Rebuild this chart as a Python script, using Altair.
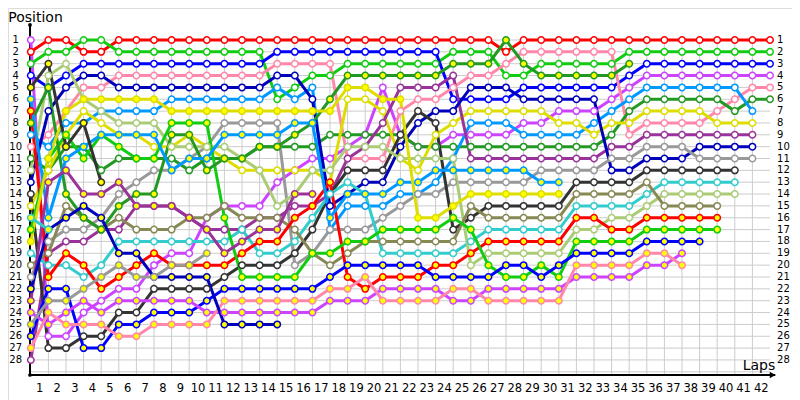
import altair as alt
import pandas as pd

# ---- data: position of each driver at the end of every lap (lap 0 = grid) ----
red_W = [2,1,1,2,2,1,1,1,1,1, 1,1,1,1,1,1,1,1,1,1, 1,1,1,1,1,1,1,2,1,1, 1,1,1,1,1,1,1,1,1,1, 1,1,1]
green_W = [3,2,2,1,1,2,2,2,2,2, 2,2,2,2,6,5,4,4,3,3, 3,3,3,3,2,2,2,4,4,3, 3,3,3,3,2,2,2,2,2,2, 2,2,2]
blue_W = [4,5,4,3,3,3,3,3,3,3, 3,3,3,3,2,2,2,2,2,2, 2,2,2,2,6,6,6,6,5,5, 5,5,5,5,4,3,3,3,3,3, 3,3,3]
magenta_W = [1,26,26,24,23,22,22,20,19,19, 16,15,15,15,13,12,11,11,10,9, 5,9,10,10,9,9,9,9,8,8, 7,7,7,6,5,4,4,4,4,4, 4,4,4]
pink_W = [10,9,7,5,5,4,4,4,4,4, 4,4,4,4,3,3,3,3,11,11, 11,7,6,6,5,4,4,3,2,2, 2,2,2,2,9,8,8,8,8,7, 6,5,5]
dkgreen_W = [11,12,10,10,12,11,11,11,11,12, 11,11,11,10,10,10,10,9,9,9, 9,9,10,10,10,10,10,10,10,10, 10,10,10,9,7,6,6,6,6,6, 7,6,6]
ltblue_W = [9,10,8,8,7,7,7,7,6,6, 6,6,6,6,5,6,5,17,15,15, 15,14,14,13,11,8,8,8,9,9, 9,9,8,7,6,5,5,5,5,5, 5,7]
yellow_W = [15,12,9,7,8,9,9,10,10,9, 10,11,12,12,12,12,12,13,6,6, 7,11,12,9,8,7,7,7,7,7, 8,8,9,8,8,7,7,7,7,8, 8,8]
purple_W = [28,19,18,18,17,17,15,15,15,16, 17,17,17,16,16,15,15,14,11,10, 8,5,5,5,4,11,11,11,11,11, 11,11,11,10,10,9,9,9,9,9, 9,9]
navy_W = [13,7,5,4,4,5,5,5,5,5, 5,5,5,5,4,4,6,15,14,13, 13,10,8,7,7,5,5,5,6,6, 6,6,6,12,12,11,11,11,10,10, 10,10]
grey_W = [21,18,17,17,16,14,13,12,12,11, 10,8,8,8,8,20,19,17,17,17, 16,15,14,14,13,13,13,13,13,12, 12,12,12,11,11,10,10,10,11,11, 11,11]
black_W = [14,27,27,26,26,24,24,22,22,22, 22,21,20,20,20,19,17,14,12,12, 12,9,7,8,17,16,15,15,15,15, 15,13,13,13,13,12,12,12,12,12, 12]
cyan_W = [19,20,20,21,20,18,18,18,18,18, 18,18,17,19,19,18,16,14,13,14, 19,19,19,19,19,18,17,17,17,17, 17,15,15,15,15,14,13,13,13,13, 13]
ltgreen_W = [12,4,3,6,7,8,8,8,10,10, 10,10,11,12,15,14,12,12,10,10, 10,11,11,11,11,20,19,19,19,19, 19,17,17,16,16,15,14,14,14,14, 14]
olive_W = [20,19,15,16,17,16,17,17,17,16, 16,15,16,16,16,17,19,20,19,18, 18,18,18,18,18,15,16,16,16,16, 16,14,14,14,14,13,15,15,15,15]
red_Y = [7,21,19,20,22,21,20,19,20,20, 20,20,19,18,18,16,15,13,21,22, 21,21,21,20,20,19,18,18,18,18, 18,16,16,17,17,16,16,16,16,16]
green_Y = [17,11,9,11,9,10,11,11,8,8, 8,16,21,21,21,21,19,19,18,18, 17,17,17,17,16,17,20,21,21,20, 21,18,18,18,18,17,17,17,17,17]
blue_Y = [26,22,22,27,27,25,25,24,24,24, 23,22,22,22,22,22,22,21,20,20, 20,20,20,21,21,21,21,20,20,21, 20,19,19,19,19,18,18,18,18]
magenta_Y = [24,25,24,23,24,23,23,23,23,23, 24,24,24,24,24,24,24,23,23,23, 22,22,22,22,23,23,22,22,22,22, 22,21,21,21,21,20,20,19]
pink_Y = [27,24,25,25,25,26,26,25,25,25, 25,23,23,23,23,23,23,22,22,21, 23,23,23,23,22,22,23,23,23,23, 23,20,20,20,20,19,19,20]
dkgreen_Y = [8,5,14,16,17,15,14,14,9,9, 12,11,11,10,10,9,8,6,4,4, 4,4,4,4,3,3,3,1,3,4, 4,4,4,4,3]
ltblue_Y = [6,16,11,10,9,9,9,9,12,11, 11,9,9,9,9,8,8,16,14,14, 14,13,13,12,12,12,12,12,12,13, 13]
yellow_Y = [18,11,7,6,6,6,6,6,7,7, 7,7,7,7,7,7,7,7,5,5, 6,6,16,16,15,14,14,14,14,14, 14]
purple_Y = [23,13,12,14,14,13,15,15,15,16, 17,19,18,17,17,14,14]
navy_Y = [22,17,16,15,16,19,19,21,21,21, 21,25,25,25,25]
grey_Y = [25,23,23,22,21,20,21,21,20,20, 19]
black_Y = [5,3,10,8,13]
cyan_Y = [16,17]

series = [
    ("01", red_W, "#ff0000", "W"), ("02", green_W, "#11cc11", "W"),
    ("03", blue_W, "#0000ff", "W"), ("04", magenta_W, "#cc44ff", "W"),
    ("05", pink_W, "#ff88aa", "W"), ("06", dkgreen_W, "#229922", "W"),
    ("07", ltblue_W, "#0099ff", "W"), ("08", yellow_W, "#dddd00", "W"),
    ("09", purple_W, "#993399", "W"), ("10", navy_W, "#0000bb", "W"),
    ("11", grey_W, "#999999", "W"), ("12", black_W, "#333333", "W"),
    ("13", cyan_W, "#33cccc", "W"), ("14", ltgreen_W, "#aacc77", "W"),
    ("15", olive_W, "#888855", "W"), ("16", red_Y, "#ff0000", "Y"),
    ("17", green_Y, "#11cc11", "Y"), ("18", blue_Y, "#0000ff", "Y"),
    ("19", magenta_Y, "#cc44ff", "Y"), ("20", pink_Y, "#ff88aa", "Y"),
    ("21", dkgreen_Y, "#229922", "Y"), ("22", ltblue_Y, "#0099ff", "Y"),
    ("23", yellow_Y, "#dddd00", "Y"), ("24", purple_Y, "#993399", "Y"),
    ("25", navy_Y, "#0000bb", "Y"), ("26", grey_Y, "#999999", "Y"),
    ("27", black_Y, "#333333", "Y"), ("28", cyan_Y, "#33cccc", "Y"),
]

names = [s[0] for s in series]
colors = [s[2] for s in series]
rows = []
for name, seq, col, fl in series:
    for lap, pos in enumerate(seq):
        rows.append({"driver": name, "lap": lap, "pos": pos, "fill": fl})
df = pd.DataFrame(rows)

positions = list(range(1, 29))
laps = list(range(1, 43))

# ---- scales (plot area 784 x 392, placed at page 8,8) ----
X = alt.Scale(domain=[-1.29545, 43.25], zero=False, nice=False)
Y = alt.Scale(domain=[-1.70042, 31.3797], zero=False, nice=False, reverse=True)
AX_X = -0.045
AX_Y = 29.27
drv = alt.Scale(domain=names, range=colors)

hgrid = pd.DataFrame({"p": list(range(1, 30)), "x0": 0.0, "x1": 42.0})
vgrid = pd.DataFrame({"l": laps[:-1], "y0": 1.0, "y1": AX_Y})

grid_h = alt.Chart(hgrid).mark_rule(color="#cccccc", strokeWidth=1).encode(
    x=alt.X("x0:Q", scale=X, axis=None), x2="x1:Q", y=alt.Y("p:Q", scale=Y, axis=None))
grid_v = alt.Chart(vgrid).mark_rule(color="#cccccc", strokeWidth=1).encode(
    x=alt.X("l:Q", scale=X, axis=None), y=alt.Y("y0:Q", scale=Y, axis=None), y2="y1:Q")

axes_df = pd.DataFrame({"x0": [AX_X, AX_X], "x1": [AX_X, 42.3],
                        "y0": [-0.27, AX_Y], "y1": [AX_Y, AX_Y]})
axes = alt.Chart(axes_df).mark_rule(color="#000000", strokeWidth=2).encode(
    x=alt.X("x0:Q", scale=X, axis=None), x2="x1:Q",
    y=alt.Y("y0:Q", scale=Y, axis=None), y2="y1:Q")
dots = alt.Chart(pd.DataFrame({"x": [AX_X, AX_X], "y": [-0.27, AX_Y]})).mark_point(
    shape="circle", filled=True, color="#000000", size=14, opacity=1).encode(
    x=alt.X("x:Q", scale=X, axis=None), y=alt.Y("y:Q", scale=Y, axis=None))
arrow = alt.Chart(pd.DataFrame({"x": [42.15], "y": [AX_Y]})).mark_point(
    shape="triangle-right", filled=True, color="#000000", size=45, opacity=1).encode(
    x=alt.X("x:Q", scale=X, axis=None), y=alt.Y("y:Q", scale=Y, axis=None))

lines = alt.Chart(df).mark_line(strokeWidth=3).encode(
    x=alt.X("lap:Q", scale=X, axis=None),
    y=alt.Y("pos:Q", scale=Y, axis=None),
    stroke=alt.Stroke("driver:N", scale=drv, legend=None),
    order="lap:Q")
points = alt.Chart(df).mark_point(shape="circle", filled=True, size=42, strokeWidth=1.5, opacity=1).encode(
    x=alt.X("lap:Q", scale=X, axis=None),
    y=alt.Y("pos:Q", scale=Y, axis=None),
    stroke=alt.Stroke("driver:N", scale=drv, legend=None),
    fill=alt.Fill("fill:N", scale=alt.Scale(domain=["W", "Y"], range=["#ffffff", "#ffff00"]), legend=None))

ylab = pd.DataFrame({"p": positions, "t": [str(p) for p in positions], "xl": -0.86, "xr": 42.4})
ylab_left = alt.Chart(ylab).mark_text(align="center", baseline="middle", font="DejaVu Sans",
                                      fontSize=10, color="#000000").encode(
    x=alt.X("xl:Q", scale=X, axis=None), y=alt.Y("p:Q", scale=Y, axis=None), text="t:N")
ylab_right = alt.Chart(ylab).mark_text(align="left", baseline="middle", font="DejaVu Sans",
                                       fontSize=10, color="#000000").encode(
    x=alt.X("xr:Q", scale=X, axis=None), y=alt.Y("p:Q", scale=Y, axis=None), text="t:N")
# x tick labels sit between grid lines
xlab = pd.DataFrame({"l": [l - 0.5 for l in laps], "t": [str(l) for l in laps], "y": 30.43})
xlabels = alt.Chart(xlab).mark_text(align="center", baseline="middle", font="DejaVu Sans",
                                    fontSize=11.5, color="#000000").encode(
    x=alt.X("l:Q", scale=X, axis=None), y=alt.Y("y:Q", scale=Y, axis=None), text="t:N")

titles = pd.DataFrame({"x": [-1.28, 40.45], "y": [-0.5, 28.85], "t": ["Position", "Laps"]})
title_marks = alt.Chart(titles).mark_text(align="left", baseline="alphabetic", font="DejaVu Sans",
                                          fontSize=14, color="#000000").encode(
    x=alt.X("x:Q", scale=X, axis=None), y=alt.Y("y:Q", scale=Y, axis=None), text="t:N")

chart = alt.layer(grid_h, grid_v, axes, dots, arrow, lines, points,
                  ylab_left, ylab_right, xlabels, title_marks).properties(
    width=784, height=392, padding=0,
    autosize=alt.AutoSizeParams(type="none"),
).configure_view(stroke=None).configure(background="#ffffff")

chart.save("out.html", embed_options={"renderer": "svg", "actions": False})
